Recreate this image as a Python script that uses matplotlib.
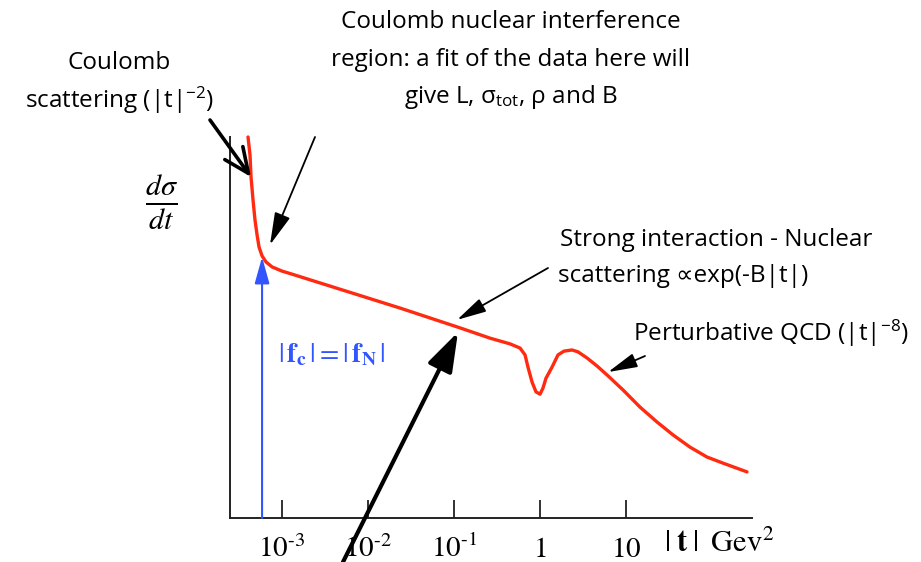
import numpy as np
import matplotlib
matplotlib.use("Agg")
import matplotlib.pyplot as plt

plt.rcParams['font.family'] = ['Open Sans', 'DejaVu Sans']
plt.rcParams['mathtext.fontset'] = 'custom'
plt.rcParams['mathtext.rm'] = 'Open Sans'
plt.rcParams['mathtext.it'] = 'Open Sans'
plt.rcParams['mathtext.bf'] = 'Open Sans:bold'

# sketch of d(sigma)/dt vs |t| (log10 |t| in GeV^2, log d(sigma)/dt in arbitrary units)
log_t = [-3.39, -3.367, -3.355, -3.332, -3.309, -3.285, -3.262, -3.227, -3.181,
         -3.111, -2.995, -2.879, -1.626, -0.93, -0.582, -0.35, -0.234, -0.176,
         -0.142, -0.095, -0.049, -0.002, 0.032, 0.067, 0.137, 0.206, 0.276,
         0.369, 0.439, 0.543, 0.659, 0.787, 0.961, 1.158, 1.355, 1.541, 1.738,
         1.935, 2.121, 2.399]
log_dsig = [10.0, 9.53, 8.95, 8.35, 7.82, 7.43, 7.11, 6.88, 6.72,
            6.59, 6.48, 6.40, 5.51, 4.99, 4.72, 4.57, 4.46, 4.28,
            3.96, 3.57, 3.31, 3.25, 3.41, 3.67, 3.96, 4.28, 4.38,
            4.41, 4.36, 4.20, 3.99, 3.73, 3.36, 2.91, 2.52, 2.18, 1.86,
            1.60, 1.44, 1.21]

tick_vals = [1e-3, 1e-2, 1e-1, 1, 10]
tick_labels = ['$10^{\u20103}$', '$10^{\u20102}$', '$10^{\u20101}$', '$1$', '$10$']

# |t| where Coulomb and nuclear amplitudes are equal
log_t_eq = -3.227
dsig_eq = 6.85

W, H = 921, 562


def px(x, y):
    return (x / W, 1 - y / H)


fig = plt.figure(figsize=(W / 100, H / 100), dpi=100)
ax = fig.add_axes([230 / W, 44 / H, 522 / W, 381 / H])

t = 10 ** np.array(log_t)
ax.plot(t, log_dsig, color='#ff2a10', lw=2.4, solid_joinstyle='round',
        solid_capstyle='round', clip_on=False)
ax.set_xscale('log')
ax.set_xlim(10 ** -3.599, 10 ** 2.457)
ax.set_ylim(0, 10)

for s in ['top', 'right']:
    ax.spines[s].set_visible(False)
for s in ['left', 'bottom']:
    ax.spines[s].set_linewidth(1.4)
    ax.spines[s].set_color('#222222')

ax.set_yticks([])
ax.set_xticks(tick_vals)
ax.set_xticklabels(tick_labels, math_fontfamily='stix', fontsize=21)
ax.minorticks_off()
ax.tick_params(axis='x', direction='in', length=13, width=1.3, pad=12,
               color='#222222')

# blue arrow up to the interference point
ax.annotate('', xy=(10 ** log_t_eq, dsig_eq), xytext=(10 ** log_t_eq, 0),
            arrowprops=dict(arrowstyle='-|>,head_length=0.9,head_width=0.25',
                            color='#3355ff', lw=1.5, shrinkA=0, shrinkB=0,
                            mutation_scale=18))
fig.text(*px(278, 355), r'$|\,\mathbf{f_c}\,| = |\,\mathbf{f_N}\,|$',
         math_fontfamily='stix', color='#3355ff', fontsize=20, va='center')

# axis labels
fig.text(*px(162, 202), r'$\frac{d\sigma}{dt}$', math_fontfamily='stix',
         fontsize=31, ha='center', va='center')
fig.text(*px(664, 544), r'$|\;\mathbf{t}\;|\;\;\mathrm{Gev}^2$',
         math_fontfamily='stix', fontsize=22, va='center')

# annotations
txt = dict(fontsize=17.5, color='black', va='center')
fig.text(*px(119, 63), 'Coulomb', ha='center', **txt)
fig.text(*px(119, 100), r'scattering (|t|$^{-2}$)', ha='center', **txt)
fig.text(*px(511, 22), 'Coulomb nuclear interference', ha='center', **txt)
fig.text(*px(511, 60), 'region: a fit of the data here will', ha='center', **txt)
fig.text(*px(511, 97), r'give L, $\sigma_{\rm tot}$, $\rho$ and B', ha='center', **txt)
fig.text(*px(560, 240), 'Strong interaction - Nuclear', ha='left', **txt)
fig.text(*px(558, 276), 'scattering \u221dexp(-B|t|)', ha='left', **txt)
fig.text(*px(633, 333), r'Perturbative QCD (|t|$^{-8}$)', ha='left', **txt)


def arrow(tip, tail, lw, style):
    ax.annotate('', xy=tip, xycoords='data', xytext=px(*tail),
                textcoords='figure fraction', annotation_clip=False,
                arrowprops=dict(arrowstyle=style, color='black', lw=lw,
                                shrinkA=0, shrinkB=0, mutation_scale=20))


arrow((10 ** log_t[2], log_dsig[2]), (210, 120), 2.6, '->,head_length=0.9,head_width=0.4')
arrow((10 ** -3.135, 7.17), (315, 137), 1.3, '-|>,head_length=1.0,head_width=0.25')
arrow((10 ** -0.965, 5.2), (548, 268), 1.3, '-|>,head_length=0.9,head_width=0.22')
arrow((10 ** -0.954, 4.88), (343, 562), 3.0, '-|>,head_length=1.2,head_width=0.4')
arrow((10 ** 0.787, 3.83), (645, 356), 1.3, '-|>,head_length=0.9,head_width=0.22')

fig.savefig('out.png', dpi=100)
